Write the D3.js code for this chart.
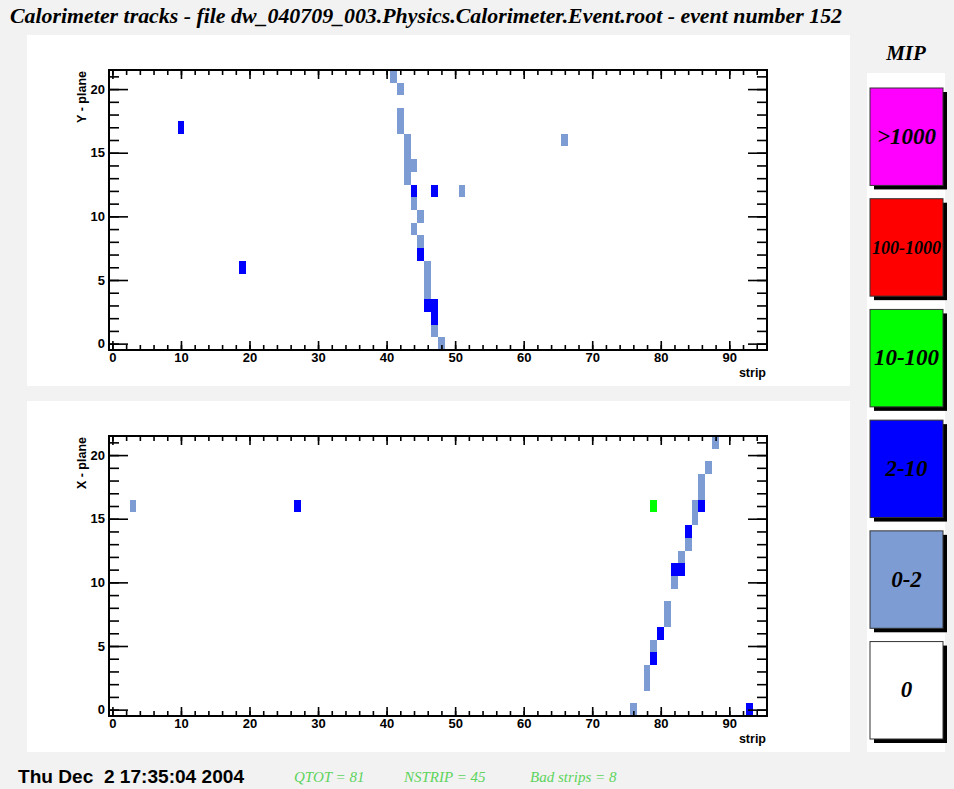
<!DOCTYPE html>
<html lang="en">
<head>
<meta charset="UTF-8">
<title>Calorimeter tracks</title>
<script src="https://cdn.jsdelivr.net/npm/d3@7/dist/d3.min.js"></script>
<style>
    body { margin: 0; background: #f2f2f2; }
    svg { display: block; }
</style>
</head>
<body>
<svg id="mainsvg" width="954" height="789"></svg>
<script>
    // hits as [strip, plane, MIP class]
    const yHits = [
        [10,17,"2-10"],[19,6,"2-10"],[41,21,"0-2"],[42,20,"0-2"],[42,18,"0-2"],[42,17,"0-2"],
        [43,16,"0-2"],[43,15,"0-2"],[43,14,"0-2"],[43,13,"0-2"],[44,14,"0-2"],[44,12,"2-10"],
        [47,12,"2-10"],[51,12,"0-2"],[44,11,"0-2"],[45,10,"0-2"],[44,9,"0-2"],[45,8,"0-2"],
        [45,7,"2-10"],[46,6,"0-2"],[46,5,"0-2"],[46,4,"0-2"],[46,3,"2-10"],[47,3,"2-10"],
        [47,2,"2-10"],[47,1,"0-2"],[48,0,"0-2"],[66,16,"0-2"]
    ];
    const xHits = [
        [3,16,"0-2"],[27,16,"2-10"],[88,21,"0-2"],[87,19,"0-2"],[86,18,"0-2"],[86,17,"0-2"],
        [86,16,"2-10"],[85,16,"0-2"],[85,15,"0-2"],[79,16,"10-100"],[84,14,"2-10"],[84,13,"0-2"],
        [83,12,"0-2"],[82,11,"2-10"],[83,11,"2-10"],[82,10,"0-2"],[81,8,"0-2"],[81,7,"0-2"],
        [80,6,"2-10"],[79,5,"0-2"],[79,4,"2-10"],[78,3,"0-2"],[78,2,"0-2"],[76,0,"0-2"],[93,0,"2-10"]
    ];
    const mipLabels = [">1000","100-1000","10-100","2-10","0-2","0"];
    const mipColors = ["#ff00ff","#ff0000","#00ff00","#0000ff","#7d9cd4","#ffffff"];
    const xMajorTicks = [0,10,20,30,40,50,60,70,80,90];
    const yMajorTicks = [0,5,10,15,20];
    const footerStats = ["QTOT = 81","NSTRIP = 45","Bad strips = 8"];

    const titleText = "Calorimeter tracks - file dw_040709_003.Physics.Calorimeter.Event.root - event number 152";
    const dateText = "Thu Dec\u00a0\u00a02 17:35:04 2004";

    const sans = "'Liberation Sans', Helvetica, Arial, sans-serif";
    const serif = "'Liberation Serif', 'Times New Roman', serif";

    const svg = d3.select("#mainsvg");
    svg.append("rect").attr("width", 954).attr("height", 789).attr("fill", "#f2f2f2");

    const color = d3.scaleOrdinal().domain(mipLabels).range(mipColors);
    const xScale = d3.scaleLinear().domain([-0.5, 95.5]).range([109, 767]);

    function drawPanel(hits, axisTitle, padTop) {
        const plotTop = padTop + 35, plotBottom = padTop + 315;
        const yScale = d3.scaleLinear().domain([-0.5, 21.5]).range([plotBottom, plotTop]);
        const g = svg.append("g");

        g.append("rect").attr("x", 27).attr("y", padTop).attr("width", 823).attr("height", 351)
            .attr("fill", "white");

        g.selectAll(".cell").data(hits).join("rect")
            .attr("class", "cell")
            .attr("x", d => xScale(d[0] - 0.5))
            .attr("width", d => xScale(d[0] + 0.5) - xScale(d[0] - 0.5))
            .attr("y", d => yScale(d[1] + 0.5))
            .attr("height", d => yScale(d[1] - 0.5) - yScale(d[1] + 0.5))
            .attr("fill", d => color(d[2]))
            .attr("shape-rendering", "crispEdges");

        const noDomain = s => s.select(".domain").remove();
        const xMinor = d3.range(0, 96, 2);
        const yMinor = d3.range(0, 22, 1);

        g.append("g").attr("transform", `translate(0,${plotBottom})`)
            .call(d3.axisBottom(xScale).tickValues(xMajorTicks).tickSize(-9).tickPadding(3)).call(noDomain);
        g.append("g").attr("transform", `translate(0,${plotBottom})`)
            .call(d3.axisBottom(xScale).tickValues(xMinor).tickSize(-5).tickFormat("")).call(noDomain);
        g.append("g").attr("transform", `translate(0,${plotTop})`)
            .call(d3.axisTop(xScale).tickValues(xMajorTicks).tickSize(-9).tickFormat("")).call(noDomain);
        g.append("g").attr("transform", `translate(0,${plotTop})`)
            .call(d3.axisTop(xScale).tickValues(xMinor).tickSize(-5).tickFormat("")).call(noDomain);

        g.append("g").attr("transform", `translate(109,0)`)
            .call(d3.axisLeft(yScale).tickValues(yMajorTicks).tickSize(-19).tickPadding(4)).call(noDomain);
        g.append("g").attr("transform", `translate(109,0)`)
            .call(d3.axisLeft(yScale).tickValues(yMinor).tickSize(-10).tickFormat("")).call(noDomain);
        g.append("g").attr("transform", `translate(767,0)`)
            .call(d3.axisRight(yScale).tickValues(yMajorTicks).tickSize(-19).tickFormat("")).call(noDomain);
        g.append("g").attr("transform", `translate(767,0)`)
            .call(d3.axisRight(yScale).tickValues(yMinor).tickSize(-10).tickFormat("")).call(noDomain);

        g.selectAll(".tick line").attr("stroke", "black").attr("stroke-width", 1.6);
        g.selectAll(".tick text").attr("font-family", sans).attr("font-weight", "bold")
            .attr("font-size", 13).attr("fill", "black");

        g.append("rect").attr("x", 109).attr("y", plotTop).attr("width", 658).attr("height", plotBottom - plotTop)
            .attr("fill", "none").attr("stroke", "black").attr("stroke-width", 2);

        g.append("text").text(axisTitle)
            .attr("transform", `translate(86,${plotTop + 1}) rotate(-90)`)
            .attr("text-anchor", "end")
            .attr("font-family", sans).attr("font-weight", "bold").attr("font-size", 12.5);

        g.append("text").text("strip")
            .attr("x", 766).attr("y", plotBottom + 27)
            .attr("text-anchor", "end")
            .attr("font-family", sans).attr("font-weight", "bold").attr("font-size", 12.5);
    }

    drawPanel(yHits, "Y - plane", 35);
    drawPanel(xHits, "X - plane", 401);

    // title
    svg.append("text").text(titleText)
        .attr("x", 10).attr("y", 23)
        .attr("textLength", 832).attr("lengthAdjust", "spacingAndGlyphs")
        .attr("font-family", serif).attr("font-weight", "bold").attr("font-style", "italic")
        .attr("font-size", 20);

    // MIP legend
    svg.append("text").text("MIP")
        .attr("x", 906).attr("y", 60).attr("text-anchor", "middle")
        .attr("font-family", serif).attr("font-weight", "bold").attr("font-style", "italic")
        .attr("font-size", 21);

    svg.append("rect").attr("x", 867).attr("y", 73).attr("width", 78).attr("height", 679).attr("fill", "white");

    const band = d3.scaleBand().domain(mipLabels).range([88, 739]).paddingInner(0.12);
    const leg = svg.selectAll(".leg").data(mipLabels).join("g")
        .attr("class", "leg")
        .attr("transform", d => `translate(870,${band(d)})`);
    leg.append("rect").attr("x", 4).attr("y", 4)
        .attr("width", 73).attr("height", band.bandwidth()).attr("fill", "black");
    leg.append("rect")
        .attr("width", 73).attr("height", band.bandwidth())
        .attr("fill", d => color(d)).attr("stroke", "#333").attr("stroke-width", 1);
    leg.append("text").text(d => d)
        .attr("x", 36.5).attr("y", band.bandwidth() / 2 + 7)
        .attr("text-anchor", "middle")
        .attr("font-family", serif).attr("font-weight", "bold").attr("font-style", "italic")
        .attr("font-size", d => d.length > 6 ? 18 : 23);

    // footer
    svg.append("text").text(dateText)
        .attr("x", 18).attr("y", 783)
        .attr("textLength", 226).attr("lengthAdjust", "spacingAndGlyphs")
        .attr("font-family", sans).attr("font-weight", "bold").attr("font-size", 18);

    const statX = [294, 404, 530];
    svg.selectAll(".stat").data(footerStats).join("text")
        .attr("class", "stat")
        .text(d => d)
        .attr("x", (d, i) => statX[i]).attr("y", 782)
        .attr("fill", "#5cd45c")
        .attr("font-family", serif).attr("font-style", "italic").attr("font-size", 15);
</script>
</body>
</html>
